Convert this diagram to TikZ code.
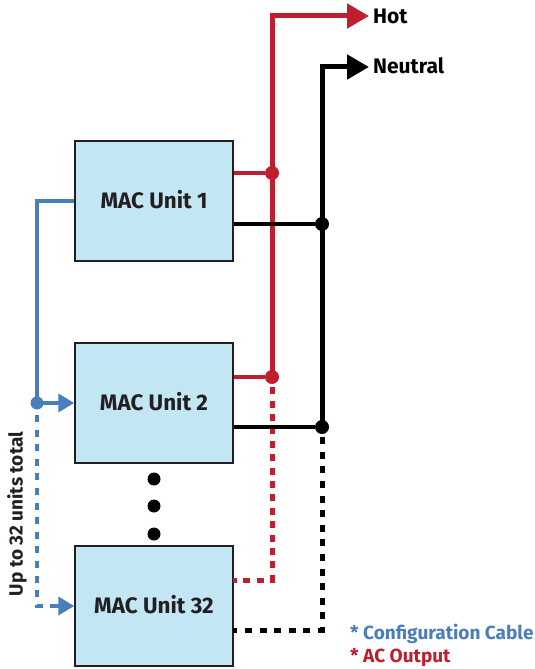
\documentclass[tikz,border=0pt]{standalone}
\usepackage{fontspec}
\setmainfont{Fira Sans}
\usetikzlibrary{arrows.meta}
\definecolor{boxfill}{HTML}{C3E6F5}
\definecolor{hotred}{HTML}{BE1E2D}
\definecolor{cfgblue}{HTML}{4A7EBB}
\definecolor{inkdark}{HTML}{231F20}
\tikzset{
  x=1pt,y=-1pt,
  unitbox/.style={draw=inkdark,line width=1.5pt,fill=boxfill,minimum width=158pt,minimum height=120pt,inner sep=0pt,text=inkdark,font=\bfseries\fontsize{22.4}{26}\selectfont},
  wire/.style={line width=5pt},
  stub wire/.style={line width=4.4pt},
  blue wire/.style={line width=4.4pt,cfgblue},
  dots wire/.style={line width=5pt,dash pattern=on 7pt off 7.6pt},
  tip/.style={-{Triangle[length=22pt,width=24pt]}},
  small tip/.style={-{Triangle[length=16pt,width=18pt]}},
  joint/.style={circle,inner sep=0pt,minimum size=#1},
  lab/.style={inner sep=0pt,anchor=west,font=\bfseries\fontsize{21}{24}\selectfont},
  legend/.style={inner sep=0pt,anchor=west,font=\bfseries\fontsize{19}{22}\selectfont},
}
\begin{document}
\begin{tikzpicture}
\useasboundingbox (0,0) rectangle (535,669);
% units
\node[unitbox] (u1) at (154,201) {\raisebox{3.5pt}{MAC Unit 1}};
\node[unitbox] (u2) at (154,403) {\raisebox{3.5pt}{MAC Unit 2}};
\node[unitbox] (u32) at (154,606) {\raisebox{3.5pt}{MAC Unit 32}};
% junctions and corners
\node[joint=14pt,fill=hotred] (h1) at (272,173) {};
\node[joint=14pt,fill=hotred] (h2) at (272,377) {};
\node[joint=14pt,fill=black] (n1) at (322,224) {};
\node[joint=14pt,fill=black] (n2) at (322,427) {};
\node[joint=13pt,fill=cfgblue] (b2) at (37,403) {};
\coordinate (hc) at (272,16);
\coordinate (he) at (369,16);
\coordinate (nc) at (322,67);
\coordinate (ne) at (369,67);
\coordinate (hd) at (272,580);
\coordinate (hs) at (233,580);
\coordinate (nd) at (322,630);
\coordinate (ns) at (233,630);
\coordinate (bc) at (37,201);
\coordinate (bd) at (37,606);
\node[lab] (hot) at (373,16) {Hot};
\node[lab] (neu) at (373,66) {Neutral};
% dashed
\draw[dots wire,hotred,dash pattern=on 7pt off 6.4pt,dash phase=3pt] (hs) -- (hd) -- (h2.center);
\draw[dots wire,black,dash phase=2.6pt] (ns) -- (nd) -- (n2.center);
\draw[dots wire,line width=4.4pt,cfgblue,dash phase=2.6pt] (b2.center) -- (bd) -- ([xshift=-14pt]u32.west);
\draw[small tip,line width=4.4pt,cfgblue] ([xshift=-17pt]u32.west) -- (u32.west);
% solid
\draw[wire,hotred,tip] (h2.center) -- (hc) -- (he);
\draw[wire,black,tip] (n2.center) -- (nc) -- (ne);
\draw[stub wire,hotred] (u1.east |- h1) -- (h1);
\draw[stub wire,hotred] (u2.east |- h2) -- (h2);
\draw[stub wire,black] (u1.east |- n1) -- (n1);
\draw[stub wire,black] (u2.east |- n2) -- (n2);
\draw[blue wire] (u1.west) -- (bc) -- (b2.center);
\draw[blue wire,small tip] (b2.center) -- (u2.west);
% ellipsis
\node[joint=13pt,fill=black] (d1) at (154,479) {};
\node[joint=13pt,fill=black] (d2) at (154,506) {};
\node[joint=13pt,fill=black] (d3) at (154,534) {};
% labels
\node[inner sep=0pt,rotate=90,anchor=center,inkdark,font=\bfseries\fontsize{19}{22}\selectfont] (up) at (17,514) {Up to 32 units total};
\node[legend,text=cfgblue] (l1) at (350,633.5) {* Configuration Cable};
\node[legend,text=hotred] (l2) at (350,657.5) {* AC Output};
\end{tikzpicture}
\end{document}
